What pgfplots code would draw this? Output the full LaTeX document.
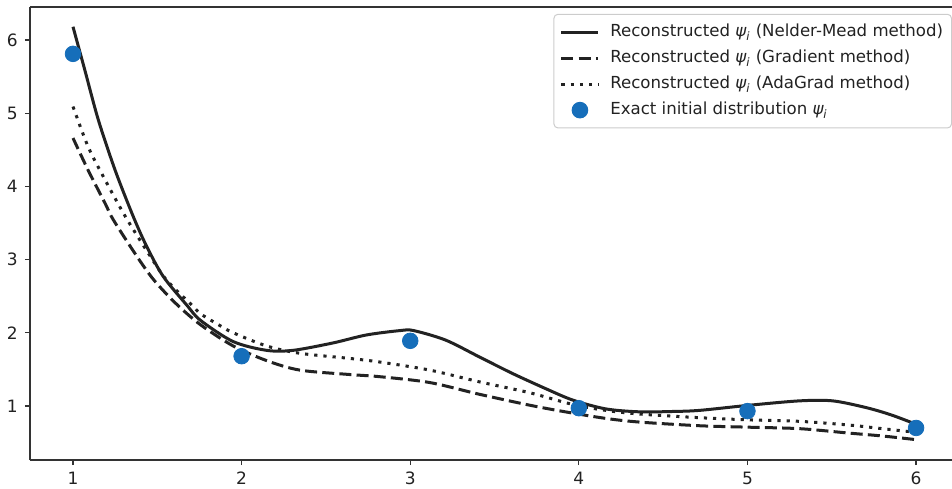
\documentclass[border=0pt]{standalone}
\usepackage{pgfplots}
\usepackage{pgfplotstable}
\pgfplotsset{compat=1.18}
\usetikzlibrary{calc}
\usepackage{fontspec}
\setmainfont{DejaVu Sans}
\definecolor{lc}{HTML}{222222}
\definecolor{dotc}{RGB}{22,110,186}
\definecolor{spine}{HTML}{333333}

\pgfplotsset{
  linelegend/.style={legend image code/.code={\draw[##1] (0pt,0pt) -- (18.5pt,0pt);\path (22.5pt,0pt);}},
  dotlegend/.style={legend image code/.code={\draw[##1] plot coordinates {(9.25pt,0pt)};\path (0pt,0pt) (22.5pt,0pt);}},
}

\pgfplotstableread{
x y
1.00 6.18
1.07 5.59
1.15 4.91
1.25 4.22
1.357 3.59
1.437 3.18
1.535 2.77
1.674 2.38
1.756 2.17
1.95 1.88
2.148 1.76
2.305 1.76
2.54 1.86
2.74 1.97
2.94 2.03
3.02 2.03
3.21 1.90
3.41 1.67
3.61 1.44
3.81 1.23
3.965 1.08
4.16 0.96
4.36 0.92
4.56 0.925
4.716 0.94
5.01 1.01
5.31 1.07
5.505 1.07
5.70 0.98
5.85 0.88
6.00 0.75
}\nm

\pgfplotstableread{
x y
1.00 4.66
1.09 4.22
1.19 3.77
1.24 3.54
1.38 3.04
1.48 2.72
1.61 2.40
1.756 2.11
1.95 1.82
2.148 1.62
2.345 1.49
2.64 1.43
2.82 1.40
3.116 1.32
3.41 1.16
3.71 1.01
3.92 0.92
4.16 0.83
4.36 0.78
4.716 0.73
5.01 0.71
5.31 0.69
5.60 0.63
5.80 0.59
6.00 0.54
}\grad

\pgfplotstableread{
x y
1.00 5.09
1.09 4.54
1.19 4.09
1.31 3.59
1.446 3.09
1.555 2.72
1.713 2.36
1.756 2.26
1.87 2.10
1.95 2.00
2.148 1.82
2.345 1.72
2.64 1.65
2.82 1.60
3.116 1.49
3.41 1.33
3.71 1.18
3.965 1.02
4.16 0.94
4.36 0.89
4.716 0.84
5.01 0.81
5.31 0.79
5.60 0.74
5.80 0.69
6.00 0.64
}\ada

\pgfplotstableread{
x y
1 5.81
2 1.68
3 1.89
4 0.97
5 0.93
6 0.70
}\exact

\begin{document}
\begin{tikzpicture}
\begin{axis}[
  scale only axis, width=461pt, height=226.5pt,
  xmin=0.745, xmax=6.213, ymin=0.262, ymax=6.45,
  axis x line=box, axis y line=left,
  axis line style={spine, line width=0.6pt, -},
  xtick={1,2,3,4,5,6}, ytick={1,2,3,4,5,6},
  xtick pos=bottom, ytick pos=left,
  tick align=outside, major tick length=2.6pt,
  tick style={spine, line width=0.6pt},
  ticklabel style={font=\fontsize{8.5}{10}\selectfont, text=lc},
  /pgf/number format/assume math mode=true,
  legend cell align=left,
  legend style={at={(1.0,0.985)}, anchor=north east,
    draw=black!20, rounded corners=2pt, line width=0.5pt,
    font=\fontsize{8.3}{10}\selectfont, text=lc,
    row sep=2.8pt, inner xsep=3pt, inner ysep=3.8pt,
    nodes={inner sep=1.2pt}},
]
\addplot[lc, line width=1.5pt, smooth, linelegend]
  table {\nm};
\addlegendentry{Reconstructed {\itshape ψ\textsubscript{i}} (Nelder-Mead method)}
\addplot[lc, line width=1.5pt, smooth, dash pattern=on 6pt off 2.6pt, linelegend]
  table {\grad};
\addlegendentry{Reconstructed {\itshape ψ\textsubscript{i}} (Gradient method)}
\addplot[lc, line width=1.5pt, smooth, dash pattern=on 1.6pt off 3pt, linelegend]
  table {\ada};
\addlegendentry{Reconstructed {\itshape ψ\textsubscript{i}} (AdaGrad method)}
\addplot[only marks, mark=*, mark size=3.9pt, mark options={draw=dotc, fill=dotc}, dotlegend]
  table {\exact};
\addlegendentry{Exact initial distribution {\itshape ψ\textsubscript{i}}}
\end{axis}
\path (current axis.north west) ++(-15pt,3.5pt) coordinate (bbtl);
\path (current axis.south east) ++(0pt,-14pt) coordinate (bbbr);
\pgfresetboundingbox
\path (bbtl) rectangle (bbbr);
\end{tikzpicture}
\end{document}
